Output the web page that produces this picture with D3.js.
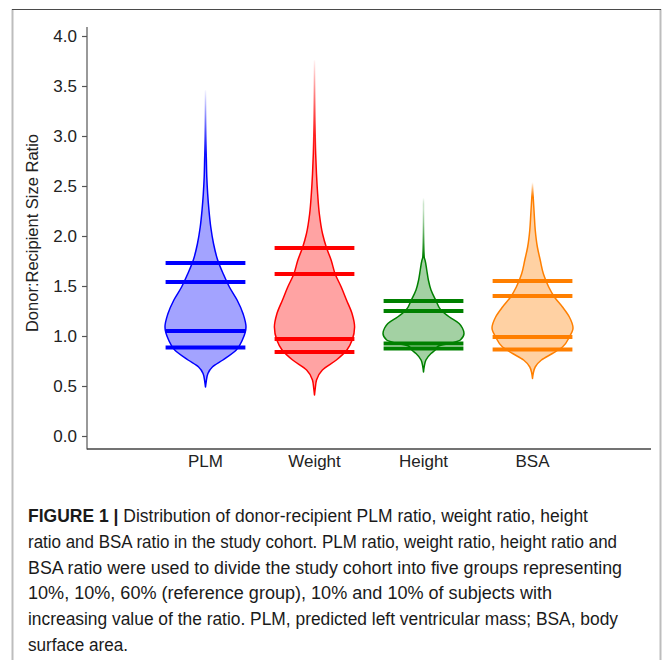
<!DOCTYPE html>
<html>
<head>
<meta charset="utf-8">
<script src="https://cdn.jsdelivr.net/npm/d3@7"></script>
<style>
  html, body { margin: 0; padding: 0; background: #fff; }
  svg { display: block; }
</style>
</head>
<body>
<svg id="chart" width="663" height="660"></svg>
<script>
// ---------- DATA ----------
const categories = ["PLM", "Weight", "Height", "BSA"];
const lineColors = ["#0000ff", "#ff0000", "#008000", "#ff7f00"];

// horizontal reference lines (quantiles) per category
const plmLines    = [0.885, 1.05, 1.54, 1.73];
const weightLines = [0.84, 0.97, 1.62, 1.88];
const heightLines = [0.875, 0.925, 1.25, 1.35];
const bsaLines    = [0.865, 0.99, 1.40, 1.55];

// violin density profiles: [ratio value, relative density]
const plmDensity = [
  [0.49,0],[0.55,0.02],[0.625,0.06],[0.69,0.17],[0.76,0.43],[0.86,0.76],[0.96,0.91],
  [1.09,1.0],[1.22,0.93],[1.36,0.78],[1.49,0.59],[1.62,0.44],[1.76,0.30],[1.92,0.20],
  [2.09,0.13],[2.26,0.085],[2.42,0.054],[2.59,0.032],[2.75,0.022],[3.0,0.01],[3.2,0.004],[3.45,0]
];
const weightDensity = [
  [0.41,0],[0.48,0.02],[0.56,0.05],[0.66,0.195],[0.76,0.54],[0.86,0.80],[0.96,0.93],
  [1.09,0.99],[1.22,0.93],[1.36,0.79],[1.49,0.66],[1.62,0.51],[1.76,0.41],[1.89,0.29],
  [2.02,0.20],[2.22,0.12],[2.42,0.078],[2.62,0.049],[2.82,0.029],[3.18,0.012],[3.53,0.004],[3.75,0]
];
const heightDensity = [
  [0.64,0],[0.70,0.02],[0.76,0.06],[0.825,0.185],[0.86,0.29],[0.90,0.37],[0.93,0.70],
  [0.96,0.91],[1.025,1.0],[1.08,0.96],[1.125,0.88],[1.19,0.64],[1.26,0.43],[1.36,0.30],
  [1.46,0.185],[1.56,0.12],[1.66,0.08],[1.76,0.037],[1.79,0.017],[1.95,0.005],[2.09,0.001],
  [2.15,0],[2.27,0],[2.32,0.003],[2.37,0]
];
const bsaDensity = [
  [0.575,0],[0.63,0.02],[0.69,0.067],[0.76,0.22],[0.825,0.49],[0.89,0.74],[0.99,0.91],
  [1.08,1.0],[1.19,0.91],[1.29,0.74],[1.39,0.54],[1.49,0.40],[1.62,0.27],[1.76,0.19],
  [1.89,0.12],[2.06,0.067],[2.22,0.042],[2.39,0.017],[2.53,0]
];

const yTicks = [0, 0.5, 1.0, 1.5, 2.0, 2.5, 3.0, 3.5, 4.0];
const yLabel = "Donor:Recipient Size Ratio";

const captionBold = "FIGURE 1 |";
const captionLines = [
  " Distribution of donor-recipient PLM ratio, weight ratio, height",
  "ratio and BSA ratio in the study cohort. PLM ratio, weight ratio, height ratio and",
  "BSA ratio were used to divide the study cohort into five groups representing",
  "10%, 10%, 60% (reference group), 10% and 10% of subjects with",
  "increasing value of the ratio. PLM, predicted left ventricular mass; BSA, body",
  "surface area."
];
const captionWidths = [560, 589, 594, 524, 590, 100];

const series = [
  { name: categories[0], color: lineColors[0], lines: plmLines, density: plmDensity },
  { name: categories[1], color: lineColors[1], lines: weightLines, density: weightDensity },
  { name: categories[2], color: lineColors[2], lines: heightLines, density: heightDensity },
  { name: categories[3], color: lineColors[3], lines: bsaLines, density: bsaDensity }
];

// ---------- LAYOUT ----------
const svg = d3.select("#chart");
const plot = { left: 87, right: 651, top: 27, bottom: 449 };
const FONT = "'Liberation Sans', Arial, Helvetica, sans-serif";

// frame
svg.append("line").attr("x1", 12.5).attr("x2", 12.5).attr("y1", 9).attr("y2", 660)
  .attr("stroke", "#bdbdbd").attr("stroke-width", 2);
svg.append("line").attr("x1", 660.5).attr("x2", 660.5).attr("y1", 9).attr("y2", 660)
  .attr("stroke", "#bdbdbd").attr("stroke-width", 2);
svg.append("line").attr("x1", 12).attr("x2", 661).attr("y1", 9.5).attr("y2", 9.5)
  .attr("stroke", "#4a4a4a").attr("stroke-width", 1.2);

const y = d3.scaleLinear().domain([0, 4]).range([436, 36]);
const x = d3.scalePoint().domain(categories).range([plot.left, plot.right]).padding(1.087);
const w = d3.scaleLinear().domain([0, 1]).range([0, 40.5]);

// axes L-shape
svg.append("line").attr("x1", plot.left).attr("x2", plot.left)
  .attr("y1", plot.top).attr("y2", plot.bottom + 0.5)
  .attr("stroke", "#555").attr("stroke-width", 1.2);
svg.append("line").attr("x1", plot.left).attr("x2", plot.right)
  .attr("y1", plot.bottom).attr("y2", plot.bottom)
  .attr("stroke", "#444").attr("stroke-width", 1.5);

const yAxis = svg.append("g")
  .attr("transform", `translate(${plot.left},0)`)
  .call(d3.axisLeft(y).tickValues(yTicks).tickFormat(d3.format(".1f")).tickSize(5).tickPadding(5));
yAxis.select(".domain").remove();
yAxis.selectAll(".tick line").attr("stroke", "#555").attr("stroke-width", 1.2);
yAxis.selectAll(".tick text").attr("fill", "#222").style("font-family", FONT).style("font-size", "17px");

// x labels
svg.append("g").selectAll("text").data(categories).join("text")
  .attr("x", d => x(d)).attr("y", 467)
  .attr("text-anchor", "middle")
  .attr("fill", "#222")
  .style("font-family", FONT).style("font-size", "17px")
  .text(d => d);

// y label
svg.append("text")
  .attr("transform", "translate(38,233) rotate(-90)")
  .attr("text-anchor", "middle")
  .attr("fill", "#222")
  .style("font-family", FONT).style("font-size", "16.5px")
  .text(yLabel);

// gradients for fading tails
const defs = svg.append("defs");
series.forEach((s, i) => {
  const maxV = s.density[s.density.length - 1][0];
  let fadeV = s.density[0][0];
  s.density.forEach(([v, d]) => { if (d >= 0.015) fadeV = v; });
  const g = defs.append("linearGradient")
    .attr("id", "fade" + i)
    .attr("gradientUnits", "userSpaceOnUse")
    .attr("x1", 0).attr("x2", 0)
    .attr("y1", y(fadeV)).attr("y2", y(maxV));
  g.append("stop").attr("offset", 0).attr("stop-color", s.color).attr("stop-opacity", 1);
  g.append("stop").attr("offset", 1).attr("stop-color", s.color).attr("stop-opacity", 0.05);
});

// violins
const vg = svg.append("g");
series.forEach((s, i) => {
  const cx = x(s.name);
  const area = d3.area()
    .curve(d3.curveMonotoneY)
    .y(d => y(d[0]))
    .x0(d => cx - w(d[1]))
    .x1(d => cx + w(d[1]));
  vg.append("path")
    .datum(s.density)
    .attr("d", area)
    .attr("fill", s.color)
    .attr("fill-opacity", 0.36)
    .attr("stroke", `url(#fade${i})`)
    .attr("stroke-width", 1.5)
    .attr("stroke-linejoin", "round");

  vg.append("g").selectAll("line").data(s.lines).join("line")
    .attr("x1", cx - w(0.985)).attr("x2", cx + w(0.985))
    .attr("y1", d => y(d)).attr("y2", d => y(d))
    .attr("stroke", s.color).attr("stroke-width", 4);
});

// caption
const cap = svg.append("g").style("font-family", FONT).style("font-size", "17.5px").attr("fill", "#1a1a1a");
captionLines.forEach((line, i) => {
  const t = cap.append("text")
    .attr("x", 28).attr("y", 522 + i * 25.8)
    .attr("textLength", captionWidths[i])
    .attr("lengthAdjust", "spacingAndGlyphs");
  if (i === 0) {
    t.append("tspan").attr("font-weight", "bold").text(captionBold);
  }
  t.append("tspan").text(line);
});
</script>
</body>
</html>
